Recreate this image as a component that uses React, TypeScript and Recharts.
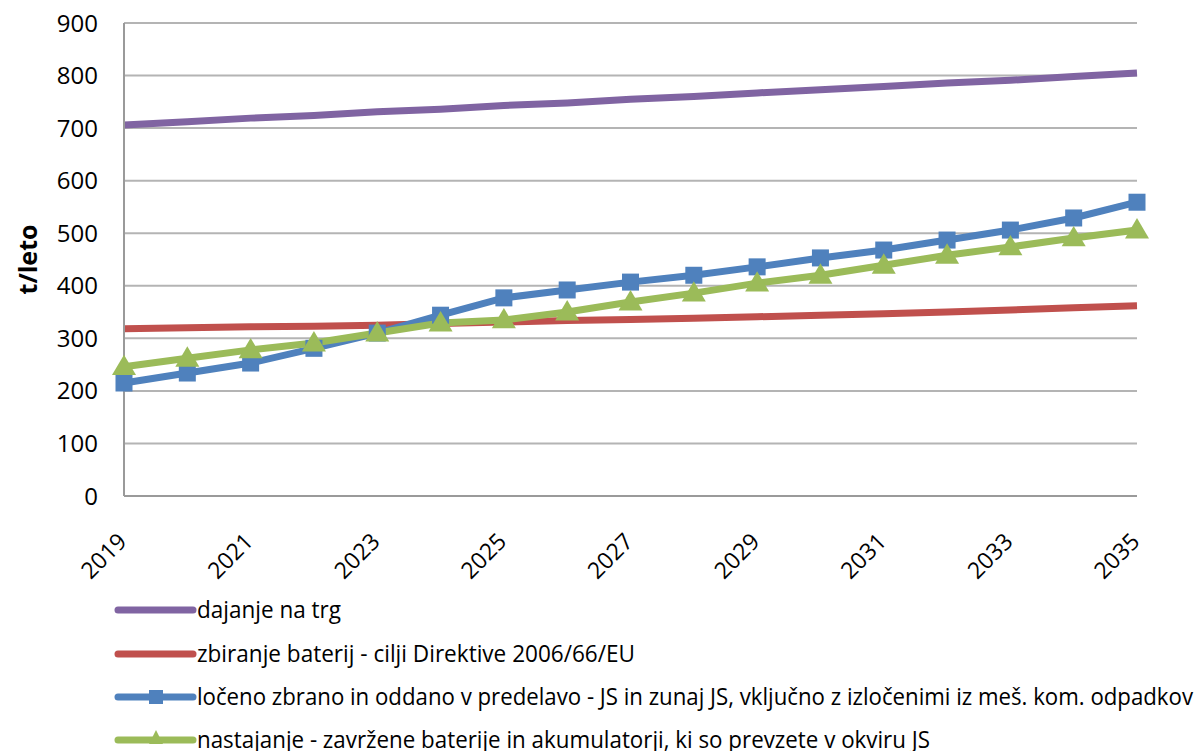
import React from "react";
import { LineChart, Line, XAxis, YAxis, CartesianGrid } from "recharts";

const years = [
  "2019", "2020", "2021", "2022", "2023", "2024", "2025", "2026", "2027",
  "2028", "2029", "2030", "2031", "2032", "2033", "2034", "2035",
];

const dajanjeNaTrg = [706, 712, 719, 724, 731, 736, 743, 748, 755, 760, 767, 773, 779, 786, 791, 798, 805];
const zbiranjeBaterij = [318, 320, 322, 323, 325, 328, 331, 334, 336, 338, 341, 344, 347, 350, 354, 358, 362];
const locenoZbrano = [215, 234, 253, 281, 310, 344, 377, 392, 407, 420, 436, 453, 468, 487, 506, 529, 559];
const nastajanje = [246, 262, 278, 291, 310, 329, 335, 350, 369, 386, 405, 420, 439, 458, 474, 491, 506];

const yTicks = [0, 100, 200, 300, 400, 500, 600, 700, 800, 900];

const seriesNames = [
  "dajanje na trg",
  "zbiranje baterij - cilji Direktive 2006/66/EU",
  "ločeno zbrano in oddano v predelavo - JS in zunaj JS, vključno z izločenimi iz meš. kom. odpadkov",
  "nastajanje - zavržene baterije in akumulatorji, ki so prevzete v okviru JS",
];

const colors = ["#8064A2", "#C0504D", "#4F81BD", "#9BBB59"];
const legendWidths = [144, 438, 996, 733];

const FONT = "'Open Sans', sans-serif";

const data = years.map((year, i) => ({
  year,
  trg: dajanjeNaTrg[i],
  zbiranje: zbiranjeBaterij[i],
  loceno: locenoZbrano[i],
  nastajanje: nastajanje[i],
}));

const SquareDot = (p: any) => {
  if (p.cx == null || p.cy == null) return <g key={p.index} />;
  return (
    <rect key={p.index} x={p.cx - 8.5} y={p.cy - 8.5} width={17} height={17} fill={colors[2]} />
  );
};

const TriangleDot = (p: any) => {
  if (p.cx == null || p.cy == null) return <g key={p.index} />;
  const s = 12;
  return (
    <path
      key={p.index}
      d={`M${p.cx},${p.cy - s} L${p.cx + s},${p.cy + s * 0.7} L${p.cx - s},${p.cy + s * 0.7} Z`}
      fill={colors[3]}
    />
  );
};

const YearTick = (p: any) => {
  const x = p.x + 4;
  const y = p.y + 39;
  return (
    <text
      x={x}
      y={y}
      transform={`rotate(-45, ${x}, ${y})`}
      textAnchor="end"
      fontSize={23}
      fontFamily={FONT}
      fill="#000"
    >
      {p.payload.value}
    </text>
  );
};

const YLabel = (p: any) => {
  const vb = p.viewBox;
  const x = 27;
  const y = vb.y + vb.height / 2;
  return (
    <text
      x={x}
      y={y}
      transform={`rotate(-90, ${x}, ${y})`}
      textAnchor="middle"
      dominantBaseline="central"
      fontSize={25}
      fontWeight="bold"
      fontFamily={FONT}
      fill="#000"
    >
      t/leto
    </text>
  );
};

function LegendBlock() {
  const rows = [10, 54, 97, 140];
  return (
    <svg width={1200} height={151} style={{ display: "block", overflow: "visible" }}>
      {seriesNames.map((name, i) => (
        <g key={name}>
          <line x1={118} x2={193} y1={rows[i]} y2={rows[i]} stroke={colors[i]} strokeWidth={7} strokeLinecap="round" />
          {i === 2 && <rect x={149} y={rows[i] - 7} width={14} height={14} fill={colors[2]} />}
          {i === 3 && (
            <path
              d={`M156,${rows[i] - 10} L163,${rows[i] + 4} L149,${rows[i] + 4} Z`}
              fill={colors[3]}
            />
          )}
          <text
            x={197}
            y={rows[i] + 8}
            fontSize={24}
            fontFamily={FONT}
            fill="#000"
            textLength={legendWidths[i]}
            lengthAdjust="spacingAndGlyphs"
          >
            {name}
          </text>
        </g>
      ))}
    </svg>
  );
}

export default function App() {
  return (
    <div style={{ position: "absolute", left: 0, top: 0, width: 1200, height: 751, background: "#fff", overflow: "hidden" }}>
      <LineChart
        width={1200}
        height={600}
        data={data}
        margin={{ top: 23, right: 63, left: 0, bottom: 0 }}
        style={{ overflow: "visible" }}
      >
        <CartesianGrid vertical={false} stroke="#b4b4b4" strokeWidth={2} />
        <XAxis
          dataKey="year"
          interval={1}
          tickLine={false}
          height={104}
          axisLine={{ stroke: "#9a9a9a", strokeWidth: 2 }}
          tick={<YearTick />}
        />
        <YAxis
          width={124}
          domain={[0, 900]}
          ticks={yTicks}
          tickLine={false}
          tickSize={0}
          tickMargin={26}
          axisLine={{ stroke: "#9a9a9a", strokeWidth: 2 }}
          tick={{ fontSize: 24, fill: "#000", fontFamily: FONT }}
          label={<YLabel />}
        />
        <Line
          dataKey="trg"
          type="linear"
          stroke={colors[0]}
          strokeWidth={7}
          dot={false}
          isAnimationActive={false}
        />
        <Line
          dataKey="zbiranje"
          type="linear"
          stroke={colors[1]}
          strokeWidth={7}
          dot={false}
          isAnimationActive={false}
        />
        <Line
          dataKey="loceno"
          type="linear"
          stroke={colors[2]}
          strokeWidth={7}
          dot={SquareDot}
          isAnimationActive={false}
        />
        <Line
          dataKey="nastajanje"
          type="linear"
          stroke={colors[3]}
          strokeWidth={7}
          dot={TriangleDot}
          isAnimationActive={false}
        />
      </LineChart>
      <LegendBlock />
    </div>
  );
}
